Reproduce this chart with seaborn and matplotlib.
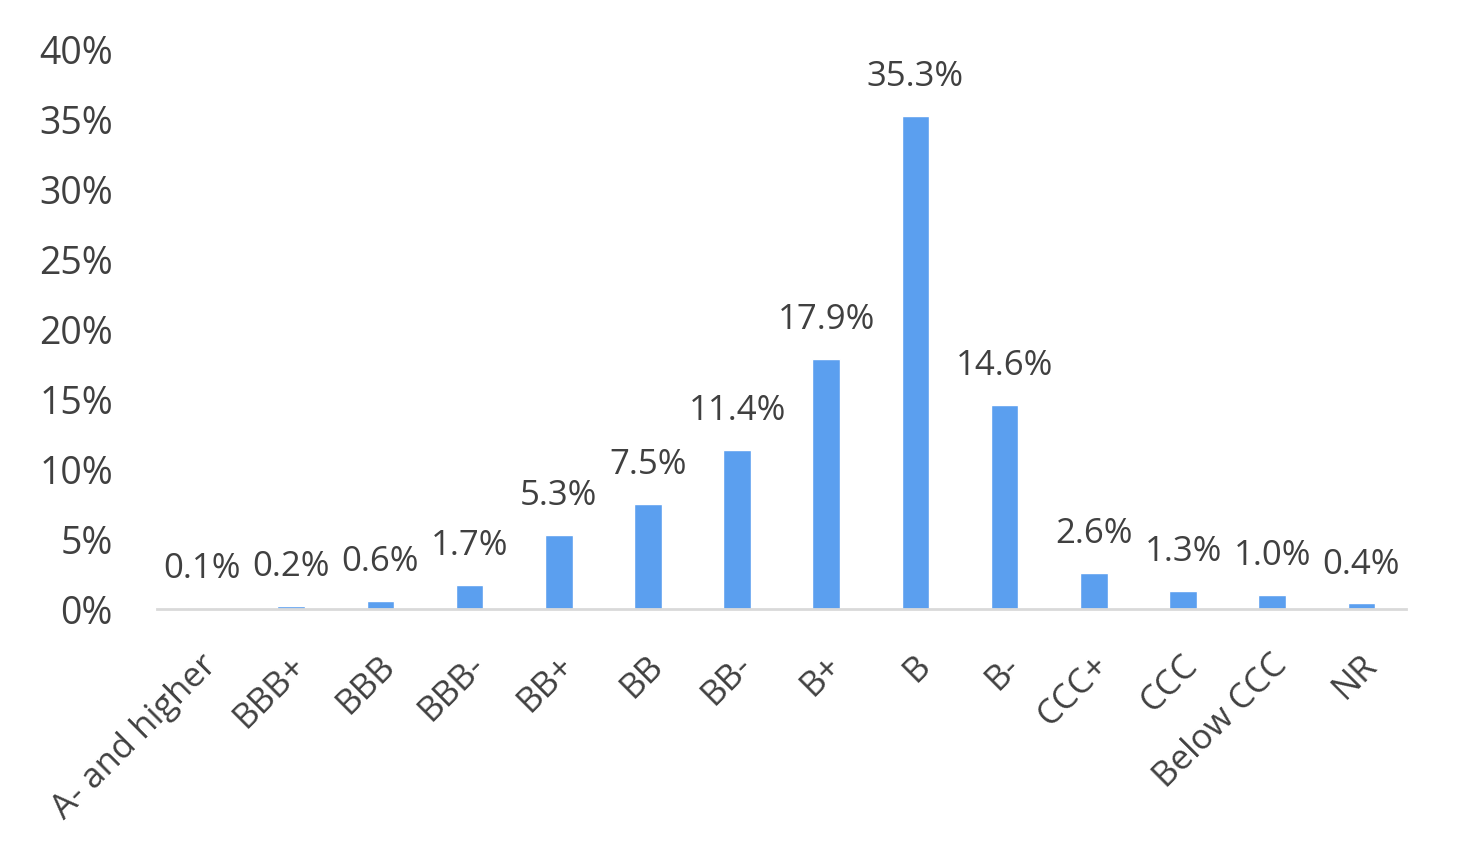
import matplotlib
matplotlib.use('Agg')
import matplotlib.pyplot as plt
import seaborn as sns
import pandas as pd
from matplotlib.ticker import FuncFormatter
import matplotlib.transforms as mtransforms

# ratings distribution
ratings = ['A- and higher', 'BBB+', 'BBB', 'BBB-', 'BB+', 'BB', 'BB-', 'B+', 'B', 'B-',
           'CCC+', 'CCC', 'Below CCC', 'NR']
shares = [0.1, 0.2, 0.6, 1.7, 5.3, 7.5, 11.4, 17.9, 35.3, 14.6, 2.6, 1.3, 1.0, 0.4]
y_ticks = [0, 5, 10, 15, 20, 25, 30, 35, 40]

text_color = '#404040'
bar_color = '#5B9FEF'

sns.set_style('white')
plt.rcParams['font.family'] = ['Open Sans', 'DejaVu Sans']

df = pd.DataFrame({'rating': ratings, 'share': shares})

fig = plt.figure(figsize=(14.57, 8.59), dpi=100)
ax = fig.add_axes([0.108, 0.291, 0.857, 0.651])
sns.barplot(ax=ax, data=df, x='rating', y='share', color=bar_color, width=0.31,
            saturation=1)

ax.set_ylim(0, 40)
ax.set_xlim(-0.5, len(ratings) - 0.5)
ax.set_yticks(y_ticks)
ax.yaxis.set_major_formatter(FuncFormatter(lambda v, p: '%d%%' % v))
ax.set_xlabel('')
ax.set_ylabel('')

for side in ['top', 'right', 'left']:
    ax.spines[side].set_visible(False)
ax.spines['bottom'].set_color('#d9d9d9')
ax.spines['bottom'].set_linewidth(2)

ax.tick_params(axis='y', length=0, labelsize=27, labelcolor=text_color, pad=32)
ax.tick_params(axis='x', length=0, labelsize=25, labelcolor=text_color, pad=37)

offset = mtransforms.ScaledTranslation(0.1, 0, fig.dpi_scale_trans)
for lbl in ax.get_xticklabels():
    lbl.set_rotation(45)
    lbl.set_ha('right')
    lbl.set_va('center')
    lbl.set_rotation_mode('anchor')
    lbl.set_transform(lbl.get_transform() + offset)

for i, v in enumerate(shares):
    ax.annotate('%.1f%%' % v, (i, v), xytext=(0, 28), textcoords='offset points',
                ha='center', va='center', fontsize=25, color=text_color)

plt.savefig('out.png', dpi=100)
